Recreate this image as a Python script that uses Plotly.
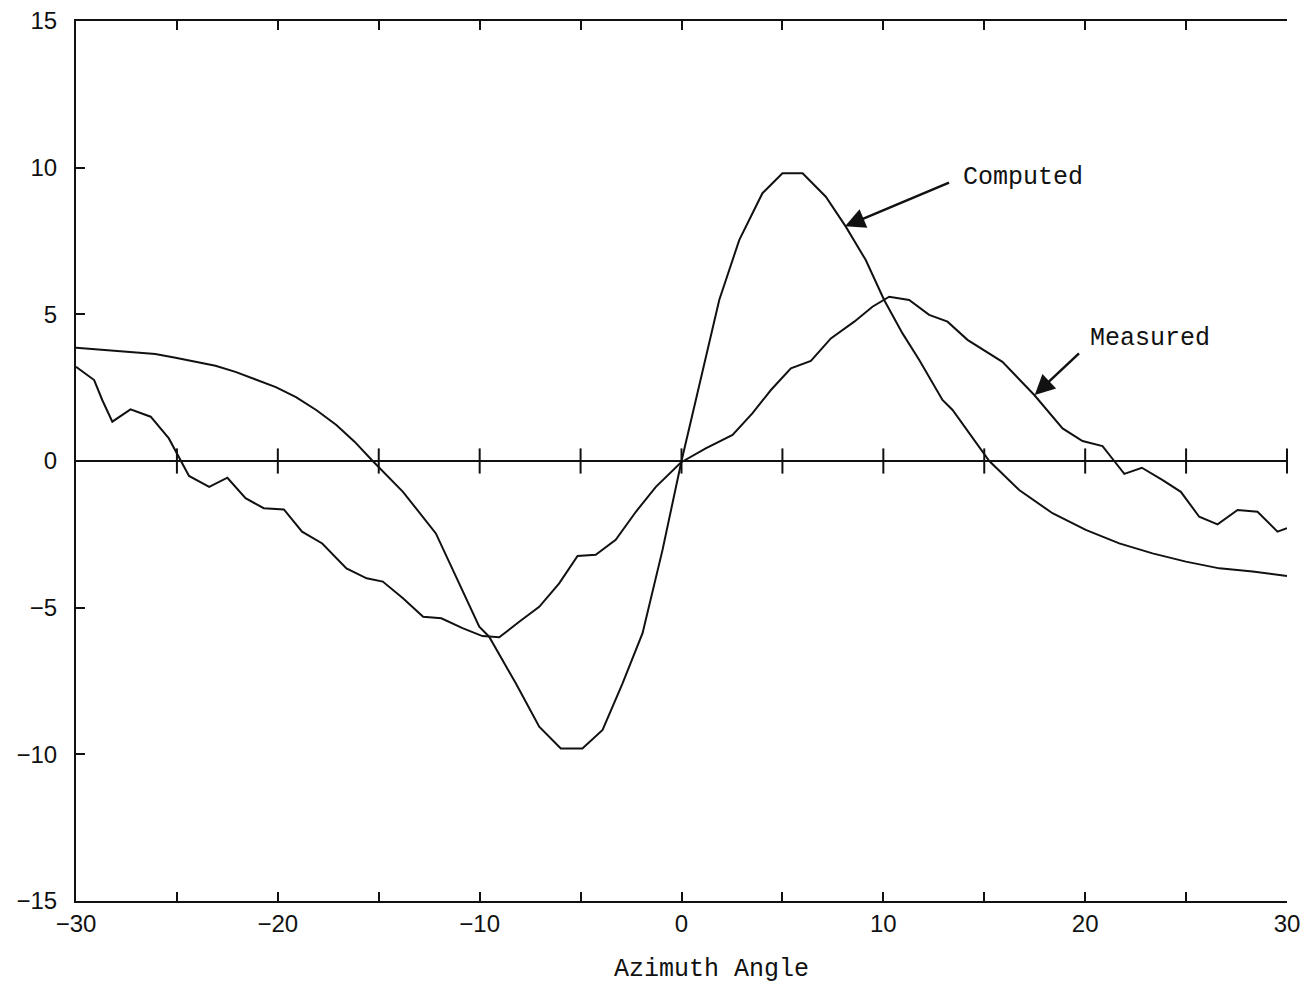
import plotly.graph_objects as go

# Computed curve (smooth)
comp_x = [-30, -28.05, -26.07, -25.07, -23.09, -22.1, -21.1, -20.1, -19.1, -18.1, -17.1, -16.2, -15.3,
          -13.8, -12.17, -11.02, -10.02, -9.53, -8.21, -7.05, -5.98, -4.91, -3.91, -2.92, -1.93, -0.94, 0,
          0.71, 1.87, 2.86, 4.01, 5.0, 6.0, 7.15, 8.14, 9.13, 10.04, 10.95, 11.78, 12.93, 13.43, 15.25,
          16.73, 18.38, 20.03, 21.69, 23.34, 24.99, 26.65, 28.3, 30.0]
comp_y = [3.86, 3.76, 3.65, 3.52, 3.25, 3.04, 2.79, 2.52, 2.18, 1.74, 1.23, 0.66, 0.0,
          -1.05, -2.47, -4.17, -5.65, -5.99, -7.58, -9.06, -9.80, -9.80, -9.17, -7.58, -5.87, -3.03, 0.0,
          2.08, 5.49, 7.53, 9.13, 9.81, 9.81, 9.01, 7.99, 6.85, 5.49, 4.35, 3.44, 2.08, 1.74, 0.0,
          -0.99, -1.78, -2.35, -2.81, -3.15, -3.43, -3.66, -3.77, -3.92]

# Measured curve (jagged)
meas_x = [-30.0, -29.1, -28.7, -28.2, -27.3, -26.3, -25.4, -24.9, -24.4, -23.4, -22.5, -21.6, -20.7,
          -19.7, -18.8, -17.8, -16.6, -15.6, -14.8, -13.8, -12.8, -11.9, -10.85, -9.86, -9.03, -8.04,
          -7.05, -6.06, -5.15, -4.25, -3.26, -2.26, -1.27, -0.03, 1.2, 2.53, 3.52, 4.43, 5.42, 6.41, 7.4,
          8.56, 9.46, 10.29, 11.28, 12.27, 13.18, 14.17, 15.9, 17.48, 18.88, 19.87, 20.86, 21.44, 21.94,
          22.81, 23.84, 24.74, 25.65, 26.56, 27.55, 28.54, 29.53, 30.0]
meas_y = [3.21, 2.76, 2.08, 1.34, 1.76, 1.51, 0.77, 0.15, -0.51, -0.88, -0.57, -1.27, -1.61,
          -1.65, -2.41, -2.81, -3.66, -4.0, -4.11, -4.68, -5.31, -5.36, -5.70, -5.97, -6.01, -5.48,
          -4.97, -4.17, -3.24, -3.20, -2.69, -1.73, -0.88, -0.05, 0.43, 0.89, 1.63, 2.42, 3.16, 3.41, 4.18,
          4.75, 5.26, 5.60, 5.49, 4.98, 4.75, 4.13, 3.38, 2.25, 1.11, 0.68, 0.51, 0.0, -0.44,
          -0.23, -0.65, -1.05, -1.90, -2.16, -1.67, -1.73, -2.41, -2.29]

x_tickvals = [-30, -25, -20, -15, -10, -5, 0, 5, 10, 15, 20, 25, 30]
x_ticktext = ["\u221230", "", "\u221220", "", "\u221210", "", "0", "", "10", "", "20", "", "30"]
y_tickvals = [-15, -10, -5, 0, 5, 10, 15]
y_ticktext = ["\u221215", "\u221210", "\u22125", "0", "5", "10", "15"]
zero_ticks_x = [-25, -20, -15, -10, -5, 0, 5, 10, 15, 20, 25, 30]

INK = "#111111"
MONO = "Liberation Mono"
SANS = "Liberation Sans"

fig = go.Figure()
fig.add_trace(go.Scatter(x=comp_x, y=comp_y, mode="lines", name="Computed",
                         line=dict(color=INK, width=2), cliponaxis=False))
fig.add_trace(go.Scatter(x=meas_x, y=meas_y, mode="lines", name="Measured",
                         line=dict(color=INK, width=2), cliponaxis=False))
# cross ticks on the zero line
fig.add_trace(go.Scatter(x=zero_ticks_x, y=[0] * len(zero_ticks_x), mode="markers",
                         marker=dict(symbol="line-ns-open", size=18, color=INK,
                                     line=dict(color=INK, width=2)),
                         cliponaxis=False, hoverinfo="skip"))

# annotations
fig.add_annotation(x=8.1, y=8.0, ax=13.33, ay=9.51, axref="x", ayref="y", xref="x", yref="y",
                   text="", showarrow=True, arrowhead=2, arrowsize=1.6, arrowwidth=2.5,
                   arrowcolor=INK)
fig.add_annotation(x=13.83, y=9.65, xref="x", yref="y", text="Computed", showarrow=False,
                   xanchor="left", yanchor="middle", font=dict(family=MONO, size=25, color=INK))
fig.add_annotation(x=17.5, y=2.25, ax=19.77, ay=3.72, axref="x", ayref="y", xref="x", yref="y",
                   text="", showarrow=True, arrowhead=2, arrowsize=1.6, arrowwidth=2.5,
                   arrowcolor=INK)
fig.add_annotation(x=20.12, y=4.19, xref="x", yref="y", text="Measured", showarrow=False,
                   xanchor="left", yanchor="middle", font=dict(family=MONO, size=25, color=INK))
fig.add_annotation(x=0.525, y=-0.078, xref="paper", yref="paper", text="Azimuth Angle",
                   showarrow=False, xanchor="center", yanchor="middle",
                   font=dict(family=MONO, size=25, color=INK))

fig.update_layout(
    width=1300, height=987,
    margin=dict(l=76, r=13, t=21, b=86),
    paper_bgcolor="white", plot_bgcolor="white",
    showlegend=False,
    xaxis=dict(range=[-30, 30], tickmode="array", tickvals=x_tickvals, ticktext=x_ticktext,
               ticks="inside", ticklen=9, tickwidth=2, tickcolor=INK,
               showline=True, linecolor=INK, linewidth=2, mirror="ticks",
               showgrid=False, zeroline=False, ticklabeloverflow="allow", automargin=False,
               tickfont=dict(family=SANS, size=24, color=INK)),
    yaxis=dict(range=[-15, 15], tickmode="array", tickvals=y_tickvals, ticktext=y_ticktext,
               ticks="inside", ticklen=9, tickwidth=2, tickcolor=INK,
               showline=True, linecolor=INK, linewidth=2, mirror=False,
               showgrid=False, zeroline=True, zerolinecolor=INK, zerolinewidth=2,
               ticklabelstandoff=12, ticklabeloverflow="allow", automargin=False,
               tickfont=dict(family=SANS, size=24, color=INK)),
)

fig.write_html("out.html")
